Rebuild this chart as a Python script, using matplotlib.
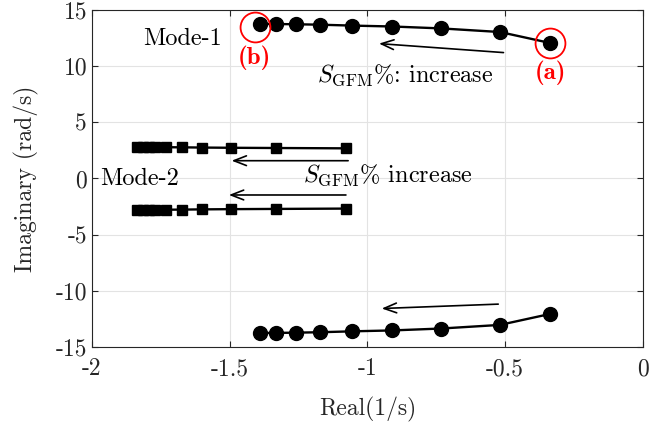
import matplotlib
matplotlib.use("Agg")
import matplotlib.pyplot as plt

plt.rcParams["font.family"] = "cmr10"
plt.rcParams["mathtext.fontset"] = "cm"
plt.rcParams["axes.unicode_minus"] = False
plt.rcParams["axes.formatter.use_mathtext"] = True

# Mode-1 eigenvalues (upper branch; lower branch is conjugate)
mode1_real = [-1.39, -1.332, -1.261, -1.171, -1.055, -0.909, -0.732, -0.519, -0.336]
mode1_imag = [13.75, 13.74, 13.72, 13.68, 13.60, 13.52, 13.35, 13.03, 12.05]

# Mode-2 eigenvalues
mode2_real = [-1.835, -1.815, -1.793, -1.771, -1.731, -1.673, -1.600, -1.494, -1.333, -1.076]
mode2_imag = [2.80, 2.80, 2.79, 2.79, 2.78, 2.77, 2.75, 2.73, 2.71, 2.68]

xticks = [-2, -1.5, -1, -0.5, 0]
xticklabels = ["-2", "-1.5", "-1", "-0.5", "0"]
yticks = [-15, -10, -5, 0, 5, 10, 15]
yticklabels = ["-15", "-10", "-5", "0", "5", "10", "15"]

edge = "#262626"

fig = plt.figure(figsize=(6.5, 4.29), dpi=100)
ax = fig.add_axes([0.1415, 0.191, 0.8475, 0.786])

# Mode-1 (circles)
ax.plot(mode1_real, mode1_imag, "-o", color="k", lw=1.7, ms=10)
ax.plot(mode1_real, [-v for v in mode1_imag], "-o", color="k", lw=1.7, ms=10)

# Mode-2 (squares)
ax.plot(mode2_real, mode2_imag, "-s", color="k", lw=1.7, ms=6.5)
ax.plot(mode2_real, [-v for v in mode2_imag], "-s", color="k", lw=1.7, ms=6.5)

# red highlight circles
ax.plot([mode1_real[-1]], [mode1_imag[-1]], "o", ms=21.5, mfc="none", mec="red", mew=1.3)
ax.plot([-1.409], [13.46], "o", ms=21.5, mfc="none", mec="red", mew=1.3)
ax.text(-0.336, 9.4, "(a)", color="red", family="cmb10", fontsize=18,
        ha="center", va="center")
ax.text(-1.41, 10.7, "(b)", color="red", family="cmb10", fontsize=18,
        ha="center", va="center")

# arrows
arrows = [
    ((-0.506, 11.2), (-0.958, 12.0)),
    ((-0.525, -11.18), (-0.948, -11.57)),
    ((-1.070, 1.58), (-1.493, 1.58)),
    ((-1.078, -1.47), (-1.503, -1.47)),
]
for tail, head in arrows:
    ax.annotate("", xy=head, xytext=tail,
                arrowprops=dict(arrowstyle="->,head_length=0.9,head_width=0.35",
                                color="k", lw=1.2, shrinkA=0, shrinkB=0))

ax.text(-1.670, 12.38, "Mode-1", fontsize=17.5, ha="center", va="center")
ax.text(-1.971, 0.0, "Mode-2", fontsize=17.5, ha="left", va="center")
ax.text(-1.184, 9.15, r"$S_{\rm GFM}$%: increase", fontsize=17.5, ha="left", va="center")
ax.text(-1.233, 0.31, r"$S_{\rm GFM}$% increase", fontsize=17.5, ha="left", va="center")

ax.set_xlim(-2, 0)
ax.set_ylim(-15, 15)
ax.set_xticks(xticks)
ax.set_xticklabels(xticklabels)
ax.set_yticks(yticks)
ax.set_yticklabels(yticklabels)
ax.set_xlabel("Real(1/s)", fontsize=17, color=edge, labelpad=12)
ax.set_ylabel("Imaginary (rad/s)", fontsize=17, color=edge, labelpad=12)
ax.grid(True, color="#e3e3e3", lw=0.8)
ax.set_axisbelow(True)
ax.tick_params(direction="in", top=True, right=True, length=4,
               labelsize=17, colors=edge, width=0.8)
ax.tick_params(axis="x", pad=8)
for s in ax.spines.values():
    s.set_color(edge)
    s.set_linewidth(0.8)

fig.savefig("out.png", dpi=100)
